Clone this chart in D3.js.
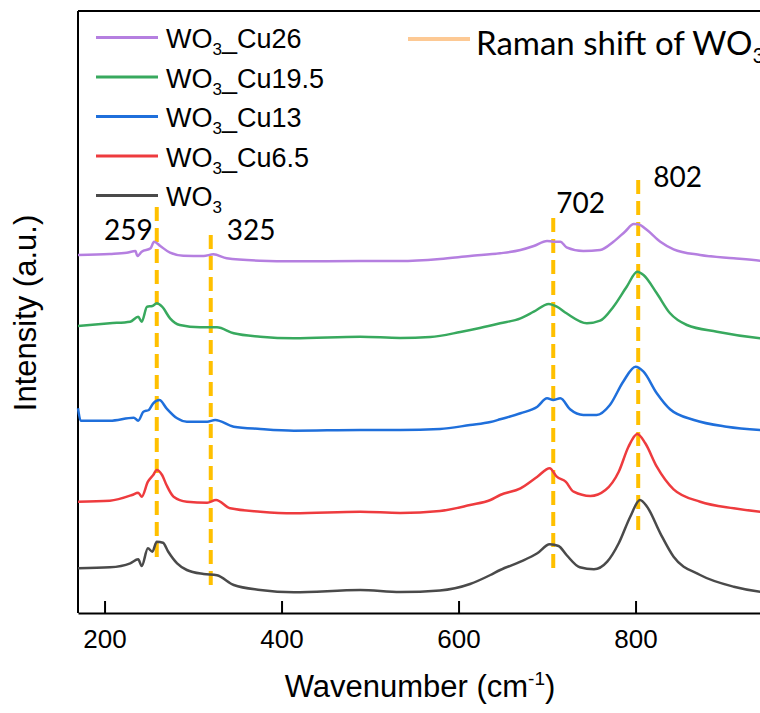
<!DOCTYPE html>
<html>
<head>
<meta charset="utf-8">
<script src="https://cdn.jsdelivr.net/npm/d3@7"></script>
<style>
  body { margin: 0; background: #fff; }
  svg { display: block; }
</style>
</head>
<body>
<svg width="760" height="713"></svg>
<script>
// spectra: [wavenumber (cm-1), intensity (a.u., offset stacked)]
const wo3Cu26 = [
  [170, 3580], [206, 3590], [225, 3603], [235, 3620], [237, 3570], [242, 3613], [252, 3647],
  [256, 3713], [263, 3670], [274, 3603], [289, 3573], [312, 3570], [323, 3587], [338, 3547],
  [376, 3523], [413, 3517], [489, 3520], [534, 3520], [579, 3540], [613, 3570], [647, 3597],
  [670, 3630], [685, 3670], [700, 3720], [707, 3713], [715, 3713], [722, 3657], [741, 3620],
  [760, 3630], [775, 3713], [788, 3813], [798, 3890], [803, 3887], [813, 3830], [828, 3713],
  [843, 3637], [873, 3580], [911, 3547], [941, 3523], [963, 3510]
];
const wo3Cu195 = [
  [170, 2870], [206, 2897], [229, 2913], [238, 2963], [242, 2913], [248, 3063], [254, 3070],
  [259, 3097], [265, 3063], [274, 2947], [285, 2880], [308, 2857], [327, 2857], [346, 2797],
  [376, 2763], [414, 2747], [489, 2763], [534, 2750], [568, 2760], [602, 2810], [624, 2850],
  [647, 2897], [670, 2947], [685, 3013], [702, 3090], [711, 3063], [722, 2997], [745, 2897],
  [760, 2923], [775, 3063], [790, 3263], [802, 3413], [809, 3380], [824, 3197], [839, 2997],
  [858, 2880], [892, 2813], [941, 2747], [963, 2730]
];
const wo3Cu13 = [
  [170, 2047], [173, 1923], [206, 1923], [233, 1953], [238, 1923], [244, 2013], [250, 2030],
  [255, 2097], [262, 2130], [270, 2047], [282, 1947], [293, 1913], [316, 1913], [325, 1930],
  [346, 1863], [376, 1840], [414, 1823], [489, 1830], [534, 1830], [579, 1840], [613, 1880],
  [636, 1910], [647, 1937], [670, 1997], [689, 2063], [700, 2147], [707, 2130], [715, 2147],
  [726, 2037], [741, 1980], [756, 1980], [771, 2080], [786, 2313], [800, 2463], [809, 2413],
  [824, 2197], [839, 2037], [866, 1930], [903, 1863], [941, 1830], [963, 1820]
];
const wo3Cu65 = [
  [170, 1113], [206, 1123], [231, 1180], [238, 1203], [242, 1163], [249, 1313], [255, 1380],
  [259, 1430], [265, 1380], [270, 1280], [278, 1163], [293, 1113], [316, 1103], [326, 1130],
  [342, 1047], [376, 1013], [414, 997], [489, 1013], [534, 1000], [579, 1020], [613, 1080],
  [636, 1130], [647, 1180], [670, 1247], [689, 1363], [703, 1447], [711, 1363], [721, 1313],
  [730, 1213], [749, 1170], [766, 1230], [781, 1413], [792, 1663], [802, 1790], [811, 1697],
  [824, 1463], [843, 1237], [873, 1113], [911, 1047], [941, 1013], [963, 1000]
];
const wo3 = [
  [170, 447], [206, 457], [229, 497], [238, 537], [242, 470], [249, 647], [254, 613],
  [259, 713], [266, 703], [272, 613], [282, 497], [293, 430], [312, 390], [327, 377],
  [346, 280], [376, 230], [414, 207], [489, 230], [534, 210], [579, 225], [613, 290],
  [636, 380], [647, 430], [670, 513], [689, 597], [703, 687], [713, 670], [722, 580],
  [737, 457], [753, 437], [768, 513], [781, 697], [794, 963], [805, 1130], [813, 1063],
  [828, 797], [843, 563], [873, 380], [911, 263], [941, 213], [963, 200]
];

const seriesNames = ["WO3_Cu26", "WO3_Cu19.5", "WO3_Cu13", "WO3_Cu6.5", "WO3"];
const seriesData = [wo3Cu26, wo3Cu195, wo3Cu13, wo3Cu65, wo3];
const seriesColors = ["#b57fe0", "#38a95e", "#1f6fdb", "#ee3b3e", "#4a4a4a"];

// WO3 reference Raman shifts (dashed markers)
const peakPos = [259, 320, 707, 803];
const peakLabels = ["259", "325", "702", "802"];
const peakTop = [4060, 3780, 3950, 4330];
const peakBottom = [550, 260, 430, 810];
const peakLabelY = [3730, 3730, 4000, 4260];

const xTicks = [200, 400, 600, 800];

const svg = d3.select("svg");
const width = +svg.attr("width");
const height = +svg.attr("height");

const margin = { top: 11, left: 78, bottom: 100 };
const plotBottom = height - margin.bottom; // 613

const x = d3.scaleLinear().domain([170, 1000]).range([margin.left, margin.left + 830 * 0.885]);
const y = d3.scaleLinear().domain([0, 6020]).range([plotBottom, margin.top]);

const arial = "Arial, 'Liberation Sans', sans-serif";
const calibri = "Lato, 'Open Sans', sans-serif";

// frame: top and left
svg.append("line")
  .attr("x1", x.range()[0]).attr("x2", x.range()[1])
  .attr("y1", margin.top).attr("y2", margin.top)
  .attr("stroke", "#000").attr("stroke-width", 2);
svg.append("line")
  .attr("x1", margin.left).attr("x2", margin.left)
  .attr("y1", margin.top).attr("y2", plotBottom)
  .attr("stroke", "#000").attr("stroke-width", 2);

// dashed peak markers
svg.selectAll(".peak")
  .data(peakPos)
  .enter().append("line")
  .attr("class", "peak")
  .attr("x1", d => x(d)).attr("x2", d => x(d))
  .attr("y1", (d, i) => y(peakTop[i]))
  .attr("y2", (d, i) => y(peakBottom[i]))
  .attr("stroke", "#ffc000")
  .attr("stroke-width", 4)
  .attr("stroke-dasharray", "14,7");

// spectra
const line = d3.line()
  .x(d => x(d[0]))
  .y(d => y(d[1]))
  .curve(d3.curveMonotoneX);

svg.selectAll(".spec")
  .data(seriesData)
  .enter().append("path")
  .attr("class", "spec")
  .attr("fill", "none")
  .attr("stroke", (d, i) => seriesColors[i])
  .attr("stroke-width", 2.5)
  .attr("stroke-linejoin", "round")
  .attr("d", line);

// peak labels
const labelDx = [-4, 16, 3, 15];
svg.selectAll(".peakLabel")
  .data(peakLabels)
  .enter().append("text")
  .attr("class", "peakLabel")
  .attr("x", (d, i) => x(peakPos[i]) + labelDx[i])
  .attr("y", (d, i) => y(peakLabelY[i]))
  .attr("text-anchor", (d, i) => i === 0 ? "end" : "start")
  .attr("font-family", calibri)
  .attr("font-size", 28)
  .text(d => d);

// x axis
const xAxis = d3.axisBottom(x)
  .tickValues(xTicks)
  .tickSizeInner(-12)
  .tickSizeOuter(0)
  .tickPadding(17);

const xAxisG = svg.append("g")
  .attr("transform", `translate(0, ${plotBottom})`)
  .call(xAxis);
xAxisG.select(".domain").attr("stroke-width", 2);
xAxisG.selectAll(".tick line").attr("stroke-width", 2);
xAxisG.selectAll(".tick text")
  .attr("font-family", arial)
  .attr("font-size", 26)
  .attr("fill", "#000");

// axis titles
const xTitle = svg.append("text")
  .attr("x", 420).attr("y", 697)
  .attr("text-anchor", "middle")
  .attr("font-family", arial)
  .attr("font-size", 31);
xTitle.append("tspan").text("Wavenumber (cm");
xTitle.append("tspan").attr("font-size", 19).attr("dy", -12).text("-1");
xTitle.append("tspan").attr("dy", 12).text(")");

svg.append("text")
  .attr("transform", "rotate(-90)")
  .attr("x", -313).attr("y", 36)
  .attr("text-anchor", "middle")
  .attr("font-family", arial)
  .attr("font-size", 31)
  .text("Intensity (a.u.)");

// legend (samples)
const legend = svg.append("g");
seriesNames.forEach((name, i) => {
  const base = 48 + i * 39.5;
  legend.append("line")
    .attr("x1", 96).attr("x2", 158)
    .attr("y1", base - 10.5).attr("y2", base - 10.5)
    .attr("stroke", seriesColors[i])
    .attr("stroke-width", 3);
  const t = legend.append("text")
    .attr("x", 166).attr("y", base)
    .attr("font-family", arial)
    .attr("font-size", 27);
  t.append("tspan").text("WO");
  t.append("tspan").attr("font-size", 17).attr("dy", 7).text("3");
  const rest = name.slice(3);
  if (rest) t.append("tspan").attr("dy", -7).text(rest);
});

// legend (reference)
legend.append("line")
  .attr("x1", 408).attr("x2", 470)
  .attr("y1", 39).attr("y2", 39)
  .attr("stroke", "#fdc994")
  .attr("stroke-width", 4);
const rt = legend.append("text")
  .attr("x", 476).attr("y", 55)
  .attr("font-family", calibri)
  .attr("font-size", 33);
rt.append("tspan").text("Raman shift of WO");
rt.append("tspan").attr("font-size", 21).attr("dy", 8).text("3");
</script>
</body>
</html>
